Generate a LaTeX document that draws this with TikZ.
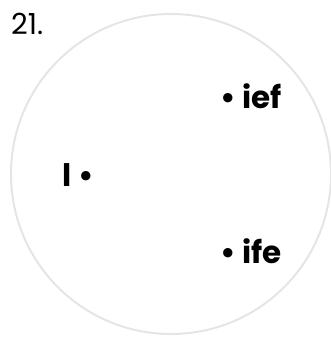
\documentclass[tikz,border=0pt]{standalone}
\usepackage{fontspec}
\setmainfont{Poppins}
\usepackage{tikz}
\usetikzlibrary{positioning}

\begin{document}
\begin{tikzpicture}[x=1pt, y=-1pt,
    ring/.style={draw=black!10, line width=2pt},
    lbl/.style={font=\fontsize{31}{31}\selectfont\bfseries, inner sep=0pt, anchor=base west},
    num/.style={font=\fontsize{29}{29}\selectfont, inner sep=0pt, anchor=base west}]
\useasboundingbox (0,0) rectangle (330,337);
%% big circle
\node[ring, circle, minimum size=320pt, inner sep=0pt] (disc) at (171,174) {};
%% question number
\node[num] (qnum) at (11,35) {21.};
%% the three words
\node[lbl] (wa) at (220,108) {• ief};
\node[lbl] (wb) at (220,263) {• ife};
\node[lbl] (wc) at (62,186) {l\hspace{7pt}•};
\end{tikzpicture}
\end{document}
